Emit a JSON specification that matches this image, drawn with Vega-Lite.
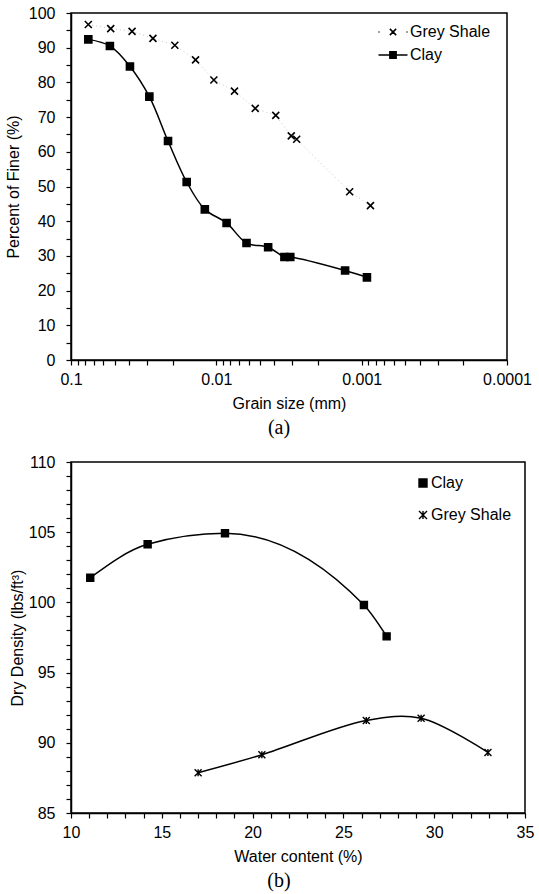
{
  "$schema": "https://vega.github.io/schema/vega-lite/v6.json",
  "padding": {"left": 4, "top": 4, "right": 5, "bottom": 5},
  "spacing": 14,
  "config": {
    "font": "Liberation Sans",
    "view": {"stroke": "black", "strokeWidth": 1.5},
    "axis": {"domainColor": "black", "domainWidth": 1.5, "tickColor": "black", "tickWidth": 1.2, "tickSize": 5, "labelColor": "black", "labelFontSize": 16, "labelFont": "Liberation Sans", "titleFont": "Liberation Sans", "titleFontSize": 16, "titleFontWeight": "normal", "titleColor": "black", "grid": false, "labelFlush": false, "labelOverlap": false},
    "axisX": {"titlePadding": 8, "labelPadding": 6},
    "axisY": {"labelPadding": 11},
    "legend": {"labelFontSize": 16, "labelColor": "black", "labelFont": "Liberation Sans"},
    "title": {"font": "Liberation Serif", "fontSize": 20, "fontWeight": "normal", "orient": "bottom", "color": "black", "offset": 7}
  },
  "resolve": {"scale": {"shape": "independent"}, "legend": {"shape": "independent"}},
  "datasets": {
    "psd": [
      {"soil": "Clay", "size": 0.076, "finer": 92.4},
      {"soil": "Clay", "size": 0.054, "finer": 90.5},
      {"soil": "Clay", "size": 0.0393, "finer": 84.6},
      {"soil": "Clay", "size": 0.0289, "finer": 75.9},
      {"soil": "Clay", "size": 0.0215, "finer": 63.1},
      {"soil": "Clay", "size": 0.016, "finer": 51.3},
      {"soil": "Clay", "size": 0.012, "finer": 43.4},
      {"soil": "Clay", "size": 0.0085, "finer": 39.5},
      {"soil": "Clay", "size": 0.0062, "finer": 33.7},
      {"soil": "Clay", "size": 0.0044, "finer": 32.5},
      {"soil": "Clay", "size": 0.0034, "finer": 29.7},
      {"soil": "Clay", "size": 0.0031, "finer": 29.7},
      {"soil": "Clay", "size": 0.0013, "finer": 25.8},
      {"soil": "Clay", "size": 0.00092, "finer": 23.8},
      {"soil": "Grey Shale", "size": 0.076, "finer": 96.7},
      {"soil": "Grey Shale", "size": 0.0533, "finer": 95.5},
      {"soil": "Grey Shale", "size": 0.038, "finer": 94.7},
      {"soil": "Grey Shale", "size": 0.0273, "finer": 92.7},
      {"soil": "Grey Shale", "size": 0.0193, "finer": 90.7},
      {"soil": "Grey Shale", "size": 0.0139, "finer": 86.5},
      {"soil": "Grey Shale", "size": 0.0104, "finer": 80.7},
      {"soil": "Grey Shale", "size": 0.0075, "finer": 77.5},
      {"soil": "Grey Shale", "size": 0.0054, "finer": 72.5},
      {"soil": "Grey Shale", "size": 0.0039, "finer": 70.5},
      {"soil": "Grey Shale", "size": 0.00305, "finer": 64.6},
      {"soil": "Grey Shale", "size": 0.0028, "finer": 63.6},
      {"soil": "Grey Shale", "size": 0.00121, "finer": 48.5},
      {"soil": "Grey Shale", "size": 0.00087, "finer": 44.5}
    ],
    "comp": [
      {"soil": "Clay", "water": 11.06, "density": 101.76},
      {"soil": "Clay", "water": 14.22, "density": 104.14},
      {"soil": "Clay", "water": 18.48, "density": 104.92},
      {"soil": "Clay", "water": 26.13, "density": 99.81},
      {"soil": "Clay", "water": 27.38, "density": 97.58},
      {"soil": "Grey Shale", "water": 17.0, "density": 87.87},
      {"soil": "Grey Shale", "water": 20.51, "density": 89.15},
      {"soil": "Grey Shale", "water": 26.26, "density": 91.59},
      {"soil": "Grey Shale", "water": 29.28, "density": 91.75},
      {"soil": "Grey Shale", "water": 32.96, "density": 89.31}
    ]
  },
  "vconcat": [
    {
      "width": 436,
      "height": 347,
      "title": {"text": "(a)", "dx": -10},
      "data": {"name": "psd"},
      "encoding": {
        "x": {"field": "size", "type": "quantitative",
          "scale": {"type": "log", "domain": [0.0001, 0.1], "reverse": true, "nice": false},
          "axis": {"title": "Grain size (mm)", "format": "~g",
            "values": [0.1, 0.09, 0.08, 0.07, 0.06, 0.05, 0.04, 0.03, 0.02, 0.01, 0.009, 0.008, 0.007, 0.006, 0.005, 0.004, 0.003, 0.002, 0.001, 0.0009, 0.0008, 0.0007, 0.0006, 0.0005, 0.0004, 0.0003, 0.0002, 0.0001],
            "labelExpr": "indexof(['0.1','0.01','0.001','0.0001'], datum.label) >= 0 ? datum.label : ''"}},
        "y": {"field": "finer", "type": "quantitative",
          "scale": {"domain": [0, 100], "nice": false},
          "axis": {"title": "Percent of Finer (%)",
            "values": [0, 5, 10, 15, 20, 25, 30, 35, 40, 45, 50, 55, 60, 65, 70, 75, 80, 85, 90, 95, 100],
            "labelExpr": "datum.value % 10 === 0 ? datum.label : ''", "titlePadding": 7}}
      },
      "layer": [
        {"transform": [{"filter": "datum.soil === 'Grey Shale'"}],
         "mark": {"type": "line", "stroke": "#c4c4c4", "strokeDash": [1, 3], "strokeWidth": 1}},
        {"transform": [{"filter": "datum.soil === 'Clay'"}],
         "mark": {"type": "line", "color": "black", "strokeWidth": 1.5, "interpolate": "catmull-rom"}},
        {"mark": {"type": "point", "filled": false, "fill": "black", "stroke": "black", "strokeWidth": 1.6, "opacity": 1, "size": 49},
         "encoding": {
           "shape": {"field": "soil", "type": "nominal",
             "scale": {"domain": ["Grey Shale", "Clay"], "range": ["M-1,-1L1,1M1,-1L-1,1", "M-1,-1H1V1H-1Z"]},
             "legend": null}}},
        {"mark": {"type": "point", "filled": false, "fill": "black", "stroke": "black", "strokeWidth": 1.5, "opacity": 0, "size": 196},
         "encoding": {
           "shape": {"field": "soil", "type": "nominal",
             "scale": {"domain": ["Grey Shale", "Clay"], "range": ["M-2.07,0H-1.93M1.93,0H2.07M-0.45,-0.45L0.45,0.45M0.45,-0.45L-0.45,0.45", "M-2.07,0H2.07M-0.45,-0.45H0.45V0.45H-0.45Z"]},
             "legend": {"orient": "none", "legendX": 314, "legendY": 11, "title": null, "padding": 0,
               "symbolSize": 196, "labelOffset": 9, "rowPadding": 7, "symbolStrokeWidth": 1.5,
               "encode": {"symbols": {"fill": {"value": "black"}, "stroke": {"value": "black"}, "strokeWidth": {"value": 1.5}, "opacity": {"value": 1}}}}}}}
      ],
      "resolve": {"scale": {"shape": "independent"}, "legend": {"shape": "independent"}}
    },
    {
      "width": 454,
      "height": 351,
      "title": {"text": "(b)", "dx": -19},
      "data": {"name": "comp"},
      "encoding": {
        "x": {"field": "water", "type": "quantitative",
          "scale": {"domain": [10, 35], "nice": false, "zero": false},
          "axis": {"title": "Water content (%)",
            "values": [10, 11, 12, 13, 14, 15, 16, 17, 18, 19, 20, 21, 22, 23, 24, 25, 26, 27, 28, 29, 30, 31, 32, 33, 34, 35],
            "labelExpr": "datum.value % 5 === 0 ? datum.label : ''"}},
        "y": {"field": "density", "type": "quantitative",
          "scale": {"domain": [85, 110], "nice": false, "zero": false},
          "axis": {"title": "Dry Density (lbs/ft³)",
            "values": [85, 86, 87, 88, 89, 90, 91, 92, 93, 94, 95, 96, 97, 98, 99, 100, 101, 102, 103, 104, 105, 106, 107, 108, 109, 110],
            "labelExpr": "datum.value % 5 === 0 ? datum.label : ''", "titlePadding": 3}}
      },
      "layer": [
        {"transform": [{"filter": "datum.soil === 'Clay'"}],
         "mark": {"type": "line", "color": "black", "strokeWidth": 1.5, "interpolate": "monotone"}},
        {"transform": [{"filter": "datum.soil === 'Grey Shale'"}],
         "mark": {"type": "line", "color": "black", "strokeWidth": 1.5, "interpolate": "catmull-rom"}},
        {"mark": {"type": "point", "filled": false, "fill": "black", "stroke": "black", "strokeWidth": 1.4, "opacity": 1, "size": 49},
         "encoding": {
           "shape": {"field": "soil", "type": "nominal",
             "scale": {"domain": ["Clay", "Grey Shale"], "range": ["M-1,-1H1V1H-1Z", "M-1,-1L1,1M1,-1L-1,1M0,-1V1"]},
             "legend": {"orient": "none", "legendX": 344, "legendY": 13, "title": null, "padding": 0,
               "symbolSize": 64, "labelOffset": 0, "rowPadding": 16, "symbolStrokeWidth": 1.4,
               "encode": {"symbols": {"fill": {"value": "black"}, "stroke": {"value": "black"}, "strokeWidth": {"value": 1.4}, "opacity": {"value": 1}}}}}}}
      ]
    }
  ]
}
